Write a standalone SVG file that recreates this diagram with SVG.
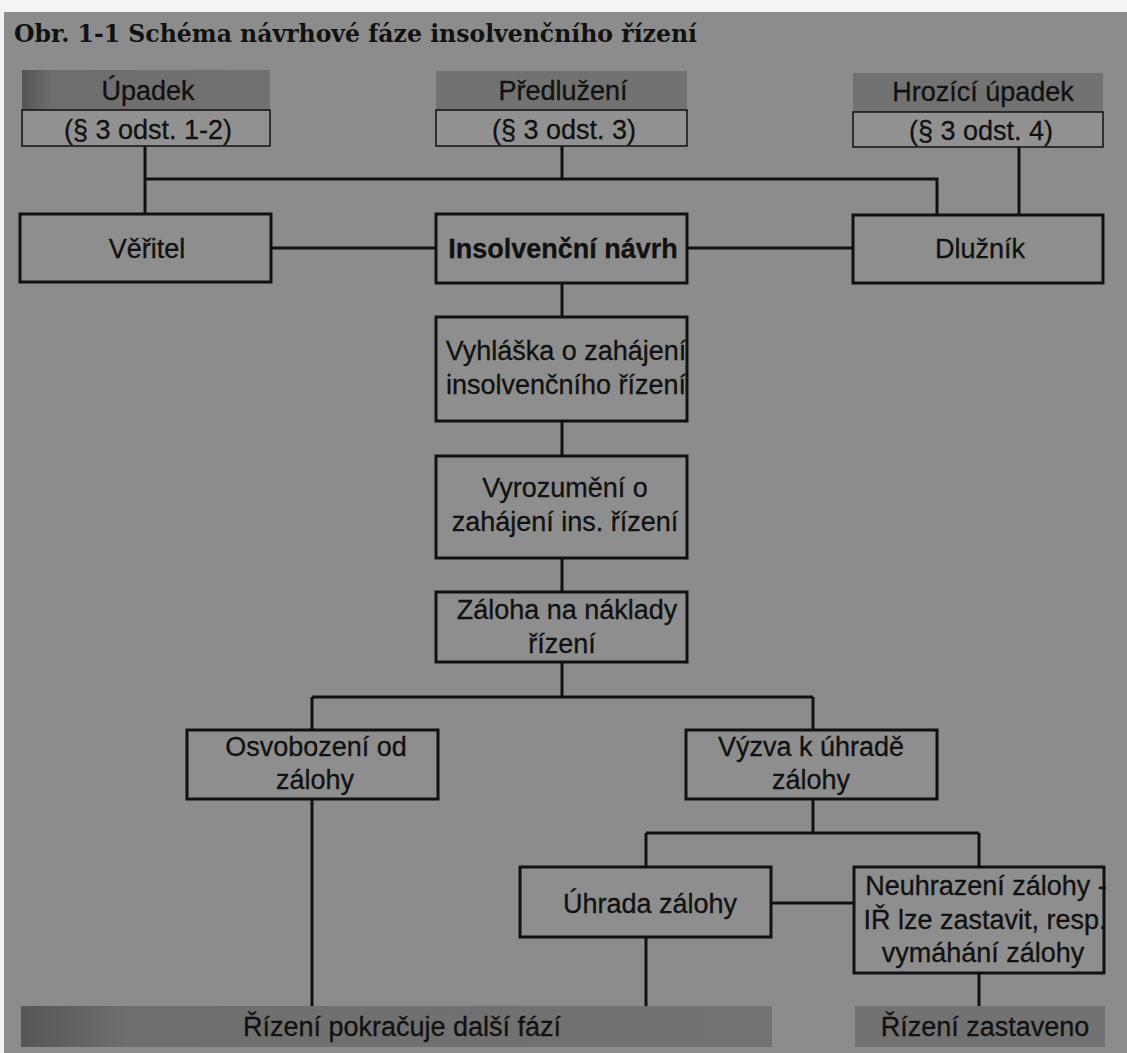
<svg xmlns="http://www.w3.org/2000/svg" width="1127" height="1053" viewBox="0 0 1127 1053">
<defs>
<style>
.t{font-family:"Liberation Sans",Arial,sans-serif;font-size:27px;fill:#111;stroke:#111;stroke-width:0.3;text-anchor:middle}
.b{font-weight:bold}
.node{fill:#8e8e8e;stroke:#111;stroke-width:3}
.sub{fill:#919191;stroke:#111;stroke-width:1.5}
.hdr{fill:url(#hg)}
.con{fill:none;stroke:#111;stroke-width:3}
.title{font-family:"DejaVu Serif","Liberation Serif",serif;font-weight:bold;font-size:24px;fill:#111}
</style>
<linearGradient id="hg" x1="0" y1="0" x2="1" y2="0">
<stop offset="0" stop-color="#545454"/>
<stop offset="0.12" stop-color="#6e6e6e"/>
<stop offset="1" stop-color="#727272"/>
</linearGradient>
<linearGradient id="hgf" x1="0" y1="0" x2="1" y2="0">
<stop offset="0" stop-color="#727272"/>
<stop offset="1" stop-color="#727272"/>
</linearGradient>
<linearGradient id="bg" x1="0" y1="0" x2="1" y2="0">
<stop offset="0" stop-color="#565656"/>
<stop offset="0.14" stop-color="#6e6e6e"/>
<stop offset="1" stop-color="#737373"/>
</linearGradient>
</defs>
<rect x="0" y="0" width="1127" height="1053" fill="#f4f4f4"/>
<rect x="4" y="12" width="1123" height="1041" fill="#8c8c8c"/>
<text class="title" x="14" y="42" textLength="683" lengthAdjust="spacingAndGlyphs">Obr. 1-1 Schéma návrhové fáze insolvenčního řízení</text>

<g id="connectors">
<path class="con" d="M145 146V214M145 179H937V215M562 146V179M1019 147V215"/>
<path class="con" d="M271 248H436M687 248H853"/>
<path class="con" d="M562 283V317M562 421V456M562 558V592M562 662V697"/>
<path class="con" d="M312 697H813M312 697V730M813 697V730"/>
<path class="con" d="M312 799V1006M813 799V833M646 833H979M646 833V867M979 833V867"/>
<path class="con" d="M771 903H854M646 937V1006M979 973V1006"/>
</g>

<g id="upadek">
<rect class="hdr" x="22" y="70" width="248" height="40"/>
<text class="t" x="148" y="100">Úpadek</text>
<rect class="sub" x="22" y="110" width="248" height="36"/>
<text class="t" x="148" y="139">(§ 3 odst. 1-2)</text>
</g>
<g id="predluzeni">
<rect x="436" y="71" width="251" height="39" fill="url(#hgf)"/>
<text class="t" x="563" y="100">Předlužení</text>
<rect class="sub" x="436" y="110" width="251" height="36"/>
<text class="t" x="564" y="139">(§ 3 odst. 3)</text>
</g>
<g id="hrozici">
<rect x="853" y="73" width="250" height="39" fill="url(#hgf)"/>
<text class="t" x="983" y="101">Hrozící úpadek</text>
<rect class="sub" x="853" y="112" width="250" height="35"/>
<text class="t" x="981" y="140">(§ 3 odst. 4)</text>
</g>
<g id="veritel">
<rect class="node" x="20" y="214" width="251" height="68"/>
<text class="t" x="147" y="258">Věřitel</text>
</g>
<g id="navrh">
<rect class="node" x="436" y="214" width="251" height="69"/>
<text class="t b" x="563" y="258">Insolvenční návrh</text>
</g>
<g id="dluznik">
<rect class="node" x="853" y="215" width="250" height="68"/>
<text class="t" x="980" y="258">Dlužník</text>
</g>
<g id="vyhlaska">
<rect class="node" x="436" y="317" width="251" height="104"/>
<text class="t" x="566" y="360">Vyhláška o zahájení</text>
<text class="t" x="566" y="394">insolvenčního řízení</text>
</g>
<g id="vyrozumeni">
<rect class="node" x="436" y="456" width="251" height="102"/>
<text class="t" x="565" y="497">Vyrozumění o</text>
<text class="t" x="565" y="531">zahájení ins. řízení</text>
</g>
<g id="zaloha">
<rect class="node" x="436" y="592" width="251" height="70"/>
<text class="t" x="567" y="619">Záloha na náklady</text>
<text class="t" x="562" y="653">řízení</text>
</g>
<g id="osvobozeni">
<rect class="node" x="187" y="730" width="251" height="69"/>
<text class="t" x="316" y="756">Osvobození od</text>
<text class="t" x="315" y="789">zálohy</text>
</g>
<g id="vyzva">
<rect class="node" x="686" y="730" width="251" height="69"/>
<text class="t" x="811" y="756">Výzva k úhradě</text>
<text class="t" x="811" y="789">zálohy</text>
</g>
<g id="uhrada">
<rect class="node" x="520" y="867" width="251" height="70"/>
<text class="t" x="650" y="913">Úhrada zálohy</text>
</g>
<g id="neuhrazeni">
<rect class="node" x="854" y="867" width="250" height="106"/>
<text class="t" x="986" y="895">Neuhrazení zálohy -</text>
<text class="t" x="985" y="929">IŘ lze zastavit, resp.</text>
<text class="t" x="983" y="962">vymáhání zálohy</text>
</g>
<g id="pokracuje">
<rect x="21" y="1006" width="751" height="41" fill="url(#bg)"/>
<text class="t" x="402" y="1036">Řízení pokračuje další fází</text>
</g>
<g id="zastaveno">
<rect x="855" y="1006" width="250" height="41" fill="url(#hgf)"/>
<text class="t" x="985" y="1036">Řízení zastaveno</text>
</g>
</svg>
